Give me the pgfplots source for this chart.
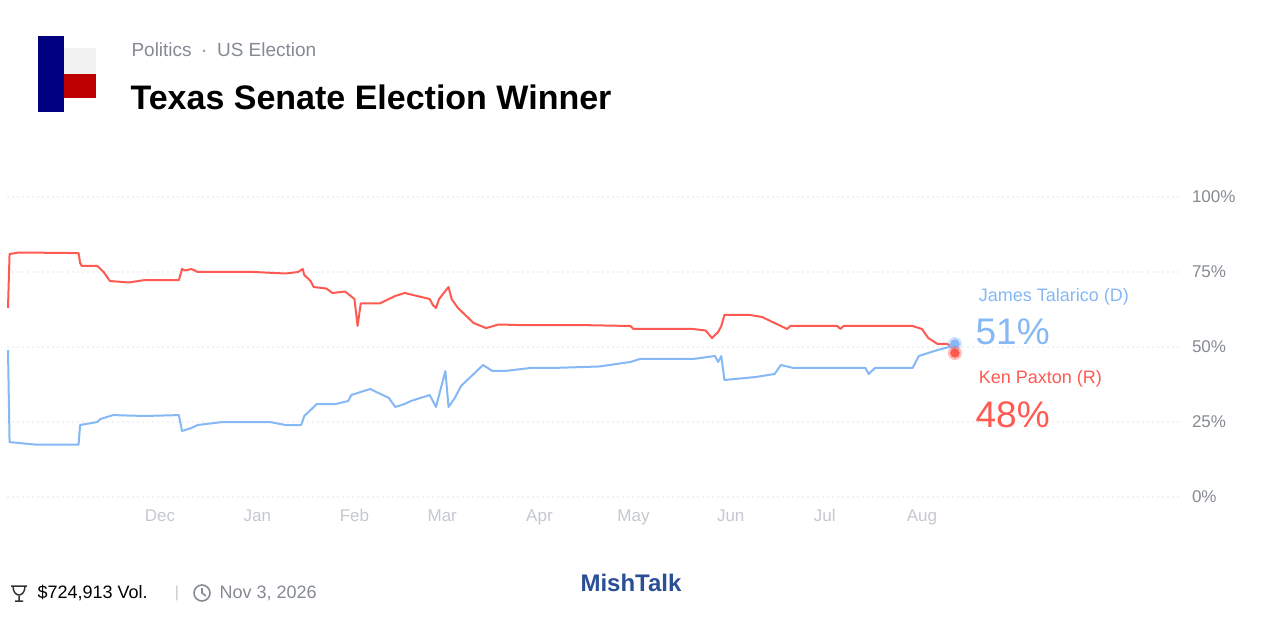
\documentclass[border=0pt]{standalone}
\usepackage{pgfplots}
\pgfplotsset{compat=1.18}
\usepackage{fontspec}
\setmainfont{Liberation Sans}
\definecolor{red1}{HTML}{FF5A52}
\definecolor{blue1}{HTML}{85B8F5}
\definecolor{gr}{HTML}{858A93}
\definecolor{lgr}{HTML}{C5C9CF}
\definecolor{mish}{HTML}{2B4F96}
\tikzset{gl/.style={lgr,line width=1.3pt,line cap=round,dash pattern=on 0pt off 5pt}}
\begin{document}
\begin{tikzpicture}[x=1pt,y=1pt]
\fill[white] (0,0) rectangle (1278,638);
\node[anchor=west,text=gr,font=\fontsize{19}{22}\selectfont] at (128,588) {Politics\enspace·\enspace US Election};
\node[anchor=west,font=\fontsize{34}{38}\selectfont\bfseries] at (127,541) {Texas Senate Election Winner};
\fill[blue!50!black] (38,526) rectangle (64,602);
\fill[white!90!gray] (64,564) rectangle (96,590);
\fill[red!75!black] (64,540) rectangle (96,564);
\node[anchor=west,font=\fontsize{18}{22}\selectfont] at (34,45) {\$724,913 Vol.};
\node[text=lgr,font=\fontsize{16}{20}\selectfont] at (177,45) {|};
\node[anchor=west,text=gr,font=\fontsize{18}{22}\selectfont] at (216,45) {Nov 3, 2026};
\draw[gr,line width=1.6pt] (202,45) circle (8);
\draw[gr,line width=1.6pt] (202,50)--(202,45)--(206,42);
\draw[black!80,line width=1.5pt] (11,52) -- (27,52) (13,52) .. controls (13,40) and (25,40) .. (25,52) (19,42)--(19,37) (15,37)--(23,37);
\node[text=mish,font=\fontsize{24}{28}\selectfont\bfseries] at (631,55) {MishTalk};
\begin{axis}[at={(8pt,141pt)},anchor=south west,scale only axis,width=1172pt,height=300pt,
 xmin=-48.5,xmax=325.3,ymin=0,ymax=100,axis lines=none,clip=false,
 xtick=\empty,ytick=\empty]
\draw[gl] (axis cs:-48.5,0)--(axis cs:325.3,0);
\draw[gl] (axis cs:-48.5,25)--(axis cs:325.3,25);
\draw[gl] (axis cs:-48.5,50)--(axis cs:325.3,50);
\draw[gl] (axis cs:-48.5,75)--(axis cs:325.3,75);
\draw[gl] (axis cs:-48.5,100)--(axis cs:325.3,100);
\node[anchor=west,text=gr,font=\fontsize{17}{20}\selectfont] at (axis cs:328,0) {0\%};
\node[anchor=west,text=gr,font=\fontsize{17}{20}\selectfont] at (axis cs:328,25) {25\%};
\node[anchor=west,text=gr,font=\fontsize{17}{20}\selectfont] at (axis cs:328,50) {50\%};
\node[anchor=west,text=gr,font=\fontsize{17}{20}\selectfont] at (axis cs:328,75) {75\%};
\node[anchor=west,text=gr,font=\fontsize{17}{20}\selectfont] at (axis cs:328,100) {100\%};
\node[anchor=base,text=lgr,font=\fontsize{17}{20}\selectfont] at (axis cs:0,-8) {Dec};
\node[anchor=base,text=lgr,font=\fontsize{17}{20}\selectfont] at (axis cs:31,-8) {Jan};
\node[anchor=base,text=lgr,font=\fontsize{17}{20}\selectfont] at (axis cs:62,-8) {Feb};
\node[anchor=base,text=lgr,font=\fontsize{17}{20}\selectfont] at (axis cs:90,-8) {Mar};
\node[anchor=base,text=lgr,font=\fontsize{17}{20}\selectfont] at (axis cs:121,-8) {Apr};
\node[anchor=base,text=lgr,font=\fontsize{17}{20}\selectfont] at (axis cs:151,-8) {May};
\node[anchor=base,text=lgr,font=\fontsize{17}{20}\selectfont] at (axis cs:182,-8) {Jun};
\node[anchor=base,text=lgr,font=\fontsize{17}{20}\selectfont] at (axis cs:212,-8) {Jul};
\node[anchor=base,text=lgr,font=\fontsize{17}{20}\selectfont] at (axis cs:243,-8) {Aug};
\addplot[red1,line width=2pt,line join=round] coordinates {
(-48.5,63)(-48,81)(-45,81.5)(-26,81.3)(-25.5,78)(-25,77)(-20,77)(-18,75)(-16,72)(-10,71.5)(-5,72.3)(6,72.3)(7,76)(8,75.5)(10,76)(12,75)(30,75)(40,74.5)(44,75)(45.5,76)(46,74)(48,72)(49,70)(53,69.5)(55,68)(59,68.5)(62,66)(63,57)(64,64.5)(70,64.5)(73,66)(75,67)(78,68)(82,67)(86,66)(87,64)(88,63)(89,66)(92,70)(93,66)(95,63)(98,60)(100,58)(104,56.3)(108,57.5)(115,57.3)(135,57.3)(150,57)(151,56)(165,56)(170,56)(174,55.5)(176,53)(178,55)(179,57)(180,60.7)(188,60.7)(192,60)(196,58)(198,57)(200,56)(201,57)(216,57)(217,56)(218,57)(240,57)(243,56)(245,53)(248,51)(251,51)(252,50.5)(253.5,49.5)};
\addplot[blue1,line width=2pt,line join=round] coordinates {
(-48.5,49)(-48,18.3)(-45,18)(-40,17.5)(-26,17.5)(-25.5,24)(-20,25)(-19,26)(-15,27.3)(-5,27)(6,27.3)(7,22)(10,23)(12,24)(20,25)(35,25)(40,24)(45,24)(46,27)(48,29)(50,31)(56,31)(60,32)(61,34)(67,36)(69,35)(73,33)(75,30)(78,31)(80,32)(86,34)(88,30)(90,38)(91,42)(92,30)(94,33)(96,37)(99,40)(102,43)(103,44)(106,42)(110,42)(118,43)(125,43)(140,43.5)(150,45)(153,46)(170,46)(177,47)(178,45)(179,47)(180,39)(185,39.5)(190,40)(196,41)(198,44)(202,43)(225,43)(226,41)(228,43)(240,43)(242,47)(248,49)(253.5,50.5)};
\addplot[only marks,mark=*,mark size=7pt,blue1,fill opacity=0.4,draw opacity=0] coordinates {(253.5,51)};
\addplot[only marks,mark=*,mark size=4.5pt,blue1] coordinates {(253.5,51)};
\addplot[only marks,mark=*,mark size=7pt,red1,fill opacity=0.4,draw opacity=0] coordinates {(253.5,48)};
\addplot[only marks,mark=*,mark size=4.5pt,red1] coordinates {(253.5,48)};
\node[anchor=west,text=blue1,font=\fontsize{18}{22}\selectfont] at (axis cs:260,66.7) {James Talarico (D)};
\node[anchor=west,text=blue1,font=\fontsize{37}{40}\selectfont] at (axis cs:259,55) {51\%};
\node[anchor=west,text=red1,font=\fontsize{18}{22}\selectfont] at (axis cs:260,39.3) {Ken Paxton (R)};
\node[anchor=west,text=red1,font=\fontsize{37}{40}\selectfont] at (axis cs:259,27.5) {48\%};
\end{axis}
\end{tikzpicture}
\end{document}
